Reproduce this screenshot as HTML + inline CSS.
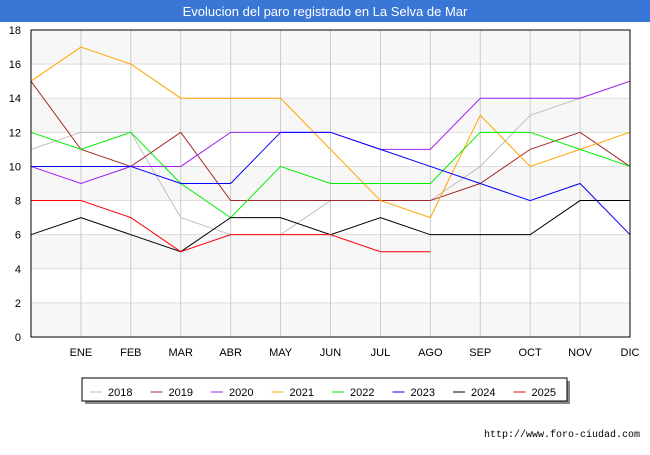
<!DOCTYPE html>
<html><head><meta charset="utf-8"><style>
body{margin:0;width:650px;height:450px;background:#fff;font-family:"Liberation Sans","DejaVu Sans",sans-serif;overflow:hidden}
</style></head><body>
<svg width="650" height="450" xmlns="http://www.w3.org/2000/svg">
<rect x="0" y="0" width="650" height="22" fill="#3a76d6"/>
<text x="325" y="16" text-anchor="middle" fill="#fff" font-size="13">Evolucion del paro registrado en La Selva de Mar</text>
<g id="grid"></g>
<g id="series"></g>
<g id="axes"></g>
<rect x="85" y="381" width="485" height="23" fill="#888"/>
<rect x="82" y="378" width="485" height="23" fill="#fff" stroke="#000"/>
<g id="legend"></g>
<text x="640" y="437" text-anchor="end" font-size="10" fill="#000" font-family="Liberation Mono,monospace">http://www.foro-ciudad.com</text>
</svg>
<script>
const months=["","ENE","FEB","MAR","ABR","MAY","JUN","JUL","AGO","SEP","OCT","NOV","DIC"];
const yTicks=[0,2,4,6,8,10,12,14,16,18];
const years=["2018","2019","2020","2021","2022","2023","2024","2025"];
const colors=["#c0c0c0","#a52a2a","#a020f0","#ffa500","#00ee00","#0000ff","#000000","#ff0000"];
const s2018=[11,12,12,7,6,6,8,8,8,10,13,14,15];
const s2019=[15,11,10,12,8,8,8,8,8,9,11,12,10];
const s2020=[10,9,10,10,12,12,12,11,11,14,14,14,15];
const s2021=[15,17,16,14,14,14,11,8,7,13,10,11,12];
const s2022=[12,11,12,9,7,10,9,9,9,12,12,11,10];
const s2023=[10,10,10,9,9,12,12,11,10,9,8,9,6];
const s2024=[6,7,6,5,7,7,6,7,6,6,6,8,8];
const s2025=[8,8,7,5,6,6,6,5,5];
const series=[s2018,s2019,s2020,s2021,s2022,s2023,s2024,s2025];
const NS="http://www.w3.org/2000/svg";
const X0=31,X1=630,Y0=337,Y1=30,YMAX=18;
const xs=i=>X0+i*(X1-X0)/12;
const ys=v=>Y0-v*(Y0-Y1)/YMAX;
function mk(t,a,p){const e=document.createElementNS(NS,t);for(const k in a)e.setAttribute(k,a[k]);p.appendChild(e);return e;}
const g=document.getElementById('grid'),ax=document.getElementById('axes'),sg=document.getElementById('series'),lg=document.getElementById('legend');
for(let i=0;i<yTicks.length-1;i++){
 if(i%2==0){const r=mk('rect',{x:X0,y:ys(yTicks[i+1]),width:X1-X0,height:ys(yTicks[i])-ys(yTicks[i+1]),fill:'#f7f7f7'},g);
 
 }
}
yTicks.forEach(v=>{const l=mk('line',{x1:X0,x2:X1,y1:ys(v),y2:ys(v),stroke:'#ddd'},g);
 
 
 const t=mk('text',{x:X0-10,y:ys(v)+4,'text-anchor':'end','font-size':11},ax);t.textContent=v;
 
 });
months.forEach((m,i)=>{if(i>0){const l=mk('line',{x1:xs(i),x2:xs(i),y1:Y1,y2:Y0,stroke:'#ccc'},g);
 
 }
 const t=mk('text',{x:xs(i),y:356,'text-anchor':'middle','font-size':11},ax);t.textContent=m;
 
 });
const fr=mk('rect',{x:X0,y:Y1,width:X1-X0,height:Y0-Y1,fill:'none',stroke:'#000'},ax);


series.forEach((s,k)=>{const p=mk('polyline',{points:s.map((v,i)=>xs(i)+','+ys(v)).join(' '),fill:'none',stroke:colors[k],'stroke-width':1},sg);
 
 
 const lx=90+k*60.5;
 const ll=mk('line',{x1:lx,x2:lx+12,y1:392,y2:392,stroke:colors[k]},lg);
 
 
 const lt=mk('text',{x:lx+18,y:396,'font-size':11},lg);lt.textContent=years[k];
 
 });
</script>
</body></html>
